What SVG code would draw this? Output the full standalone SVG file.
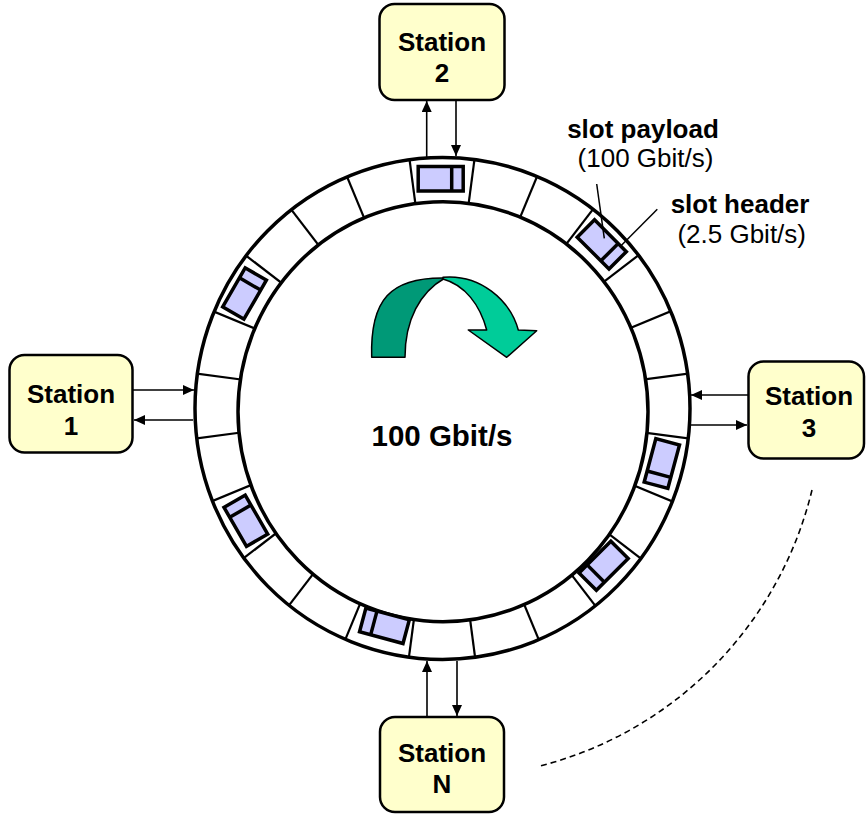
<svg xmlns="http://www.w3.org/2000/svg" width="866" height="814" viewBox="0 0 866 814">
<style>
.stn{fill:#FFFFCC;stroke:#000;stroke-width:2.5}
.lbl{font-family:"Liberation Sans",Arial,sans-serif;font-weight:bold;font-size:26px;text-anchor:middle;fill:#000}
.big{font-size:29.5px}
.note{font-family:"Liberation Sans",Arial,sans-serif;font-size:26px;text-anchor:middle;fill:#000}
.noteb{font-weight:bold}
.ring{fill:none;stroke:#000;stroke-width:3.5}
.div{stroke:#000;stroke-width:2.2}
.pay{fill:#CCCCFF;stroke:#000;stroke-width:3.5}
.hd{stroke:#000;stroke-width:3.5}
.conn{stroke:#000;stroke-width:1.6;fill:none}
.ptr{stroke:#000;stroke-width:1.5}
</style>
<defs>
<marker id="ah" markerWidth="12" markerHeight="10" refX="11" refY="5" orient="auto" markerUnits="userSpaceOnUse">
<path d="M0,0 L11,5 L0,10 Z" fill="#000"/>
</marker>
<clipPath id="annulus" clipPathUnits="userSpaceOnUse">
<path clip-rule="evenodd" d="M195,408.4 A247.5,251 0 1 0 690,408.4 A247.5,251 0 1 0 195,408.4 Z M238,411.7 A205,210 0 1 0 648,411.7 A205,210 0 1 0 238,411.7 Z"/>
</clipPath>
<g id="slotbox">
<rect class="pay" x="-23.8" y="-239.5" width="45" height="24.5"/>
<line class="hd" x1="9.7" y1="-239.5" x2="9.7" y2="-215"/>
</g>
<line id="rad" class="div" x1="0" y1="-170" x2="0" y2="-275"/>
</defs>

<g id="ring">
<g clip-path="url(#annulus)">
<g transform="translate(442,406)">
<use href="#rad" transform="rotate(7.5)"/>
<use href="#rad" transform="rotate(22.5)"/>
<use href="#rad" transform="rotate(37.5)"/>
<use href="#rad" transform="rotate(52.5)"/>
<use href="#rad" transform="rotate(67.5)"/>
<use href="#rad" transform="rotate(82.5)"/>
<use href="#rad" transform="rotate(97.5)"/>
<use href="#rad" transform="rotate(112.5)"/>
<use href="#rad" transform="rotate(127.5)"/>
<use href="#rad" transform="rotate(142.5)"/>
<use href="#rad" transform="rotate(157.5)"/>
<use href="#rad" transform="rotate(172.5)"/>
<use href="#rad" transform="rotate(187.5)"/>
<use href="#rad" transform="rotate(202.5)"/>
<use href="#rad" transform="rotate(217.5)"/>
<use href="#rad" transform="rotate(232.5)"/>
<use href="#rad" transform="rotate(247.5)"/>
<use href="#rad" transform="rotate(262.5)"/>
<use href="#rad" transform="rotate(277.5)"/>
<use href="#rad" transform="rotate(292.5)"/>
<use href="#rad" transform="rotate(307.5)"/>
<use href="#rad" transform="rotate(322.5)"/>
<use href="#rad" transform="rotate(337.5)"/>
<use href="#rad" transform="rotate(352.5)"/>
</g>
</g>
<ellipse class="ring" cx="442.5" cy="408.4" rx="247.5" ry="251"/>
<ellipse class="ring" cx="443" cy="411.7" rx="205" ry="210"/>
</g>

<g id="slots" transform="translate(442,406)">
<use href="#slotbox"/>
<use href="#slotbox" transform="rotate(45)"/>
<use href="#slotbox" transform="rotate(105)"/>
<use href="#slotbox" transform="rotate(135)"/>
<use href="#slotbox" transform="rotate(195)"/>
<use href="#slotbox" transform="rotate(240)"/>
<use href="#slotbox" transform="rotate(300)"/>
</g>

<g id="rotation-arrow" stroke="#000" stroke-width="1.5" stroke-linejoin="round">
<path fill="#009977" d="M371.7,357.3 C370,300 390,277 445,278 C420,292 405,320 405,357.3 Z"/>
<path fill="#00CC99" d="M443,277.3 C480,274 510,300 518.3,330 L536.7,330.7 L506.7,357.3 L468.3,330 L486.7,330 C480,305 465,285 443,279 Z"/>
</g>

<g id="rate-label">
<text class="lbl big" x="442" y="446">100 Gbit/s</text>
</g>

<g id="station-2">
<rect class="stn" x="379.5" y="4" width="125" height="96" rx="15"/>
<text class="lbl" x="442" y="51">Station</text>
<text class="lbl" x="442" y="82">2</text>
</g>
<g id="station-1">
<rect class="stn" x="9.5" y="355" width="123" height="97.5" rx="15"/>
<text class="lbl" x="71" y="403">Station</text>
<text class="lbl" x="71" y="435">1</text>
</g>
<g id="station-3">
<rect class="stn" x="748.5" y="361.5" width="115.5" height="97" rx="15"/>
<text class="lbl" x="809" y="405">Station</text>
<text class="lbl" x="809" y="437">3</text>
</g>
<g id="station-N">
<rect class="stn" x="380" y="717" width="124" height="95" rx="15"/>
<text class="lbl" x="442" y="762">Station</text>
<text class="lbl" x="442" y="793">N</text>
</g>

<g id="slot-payload-label">
<text class="note noteb" x="643" y="138">slot payload</text>
<text class="note" x="645.5" y="167">(100 Gbit/s)</text>
</g>
<g id="slot-header-label">
<text class="note noteb" x="740" y="213">slot header</text>
<text class="note" x="741.7" y="243">(2.5 Gbit/s)</text>
</g>

<g id="connectors">
<line class="conn" x1="426.7" y1="157" x2="426.7" y2="101" marker-end="url(#ah)"/>
<line class="conn" x1="456" y1="101" x2="456" y2="156" marker-end="url(#ah)"/>
<line class="conn" x1="133" y1="390" x2="194" y2="390" marker-end="url(#ah)"/>
<line class="conn" x1="193" y1="420" x2="134" y2="420" marker-end="url(#ah)"/>
<line class="conn" x1="748" y1="395" x2="691" y2="395" marker-end="url(#ah)"/>
<line class="conn" x1="690" y1="425" x2="747" y2="425" marker-end="url(#ah)"/>
<line class="conn" x1="427" y1="717" x2="427" y2="661" marker-end="url(#ah)"/>
<line class="conn" x1="457" y1="661" x2="457" y2="716" marker-end="url(#ah)"/>
<line class="ptr" x1="596.7" y1="184" x2="604.3" y2="238.3"/>
<line class="ptr" x1="657.3" y1="209.3" x2="620" y2="246.7"/>
<path class="conn" stroke-width="1.5" stroke-dasharray="6,4" d="M812,490 A376,376 0 0 1 540,766"/>
</g>
</svg>
